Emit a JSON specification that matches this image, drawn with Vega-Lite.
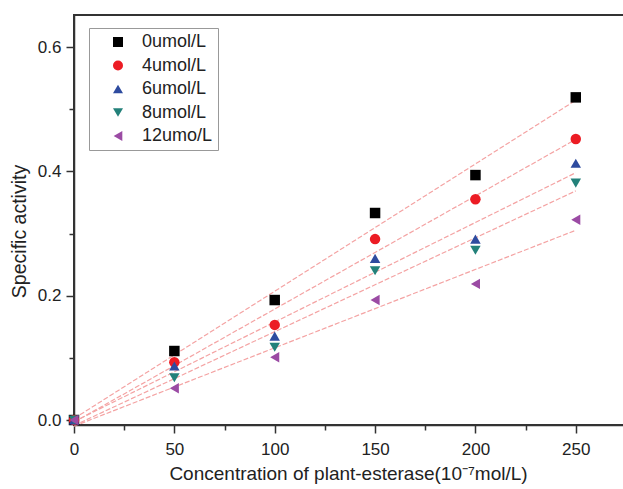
{
  "$schema": "https://vega.github.io/schema/vega-lite/v6.json",
  "autosize": "none",
  "width": 562,
  "height": 410,
  "padding": {"left": 74, "top": 15, "right": 0, "bottom": 64},
  "background": "white",
  "config": {
    "font": "Liberation Sans",
    "view": {"stroke": "#333333", "strokeWidth": 2},
    "axis": {"domainColor": "#333333", "tickColor": "#333333", "domainWidth": 1.5, "tickWidth": 1.5, "grid": false, "labelColor": "#222222", "titleColor": "#222222", "titleFontWeight": "normal", "labelFont": "Liberation Sans", "titleFont": "Liberation Sans", "labelFlush": false}
  },
  "data": {
    "values": [
      {"x": 0, "y": 0, "series": "0umol/L"},
      {"x": 50, "y": 0.111, "series": "0umol/L"},
      {"x": 100, "y": 0.193, "series": "0umol/L"},
      {"x": 150, "y": 0.333, "series": "0umol/L"},
      {"x": 200, "y": 0.394, "series": "0umol/L"},
      {"x": 250, "y": 0.519, "series": "0umol/L"},
      {"x": 0, "y": 0, "series": "4umol/L"},
      {"x": 50, "y": 0.093, "series": "4umol/L"},
      {"x": 100, "y": 0.153, "series": "4umol/L"},
      {"x": 150, "y": 0.291, "series": "4umol/L"},
      {"x": 200, "y": 0.355, "series": "4umol/L"},
      {"x": 250, "y": 0.452, "series": "4umol/L"},
      {"x": 0, "y": 0, "series": "6umol/L"},
      {"x": 50, "y": 0.087, "series": "6umol/L"},
      {"x": 100, "y": 0.135, "series": "6umol/L"},
      {"x": 150, "y": 0.26, "series": "6umol/L"},
      {"x": 200, "y": 0.291, "series": "6umol/L"},
      {"x": 250, "y": 0.413, "series": "6umol/L"},
      {"x": 0, "y": 0, "series": "8umol/L"},
      {"x": 50, "y": 0.068, "series": "8umol/L"},
      {"x": 100, "y": 0.117, "series": "8umol/L"},
      {"x": 150, "y": 0.24, "series": "8umol/L"},
      {"x": 200, "y": 0.273, "series": "8umol/L"},
      {"x": 250, "y": 0.381, "series": "8umol/L"},
      {"x": 0, "y": 0, "series": "12umo/L"},
      {"x": 50, "y": 0.051, "series": "12umo/L"},
      {"x": 100, "y": 0.101, "series": "12umo/L"},
      {"x": 150, "y": 0.193, "series": "12umo/L"},
      {"x": 200, "y": 0.219, "series": "12umo/L"},
      {"x": 250, "y": 0.322, "series": "12umo/L"}
    ]
  },
  "layer": [
    {
      "transform": [{"regression": "y", "on": "x", "groupby": ["series"], "extent": [0, 250]}],
      "mark": {"type": "line", "color": "#f4a3a3", "strokeWidth": 1.2, "strokeDash": [5, 2]},
      "encoding": {
        "x": {"field": "x", "type": "quantitative", "scale": {"domain": [0, 280], "nice": false, "zero": false},
          "axis": {"orient": "bottom", "values": [25, 75, 125, 175, 225, 275], "labels": false, "domain": false, "tickSize": 5, "title": null}},
        "y": {"field": "y", "type": "quantitative", "scale": {"domain": [-0.008, 0.6515], "nice": false, "zero": false},
          "axis": {"orient": "left", "values": [0.1, 0.3, 0.5], "labels": false, "domain": false, "tickSize": 5, "title": null}},
        "detail": {"field": "series"}
      }
    },
    {
      "mark": {"type": "point", "filled": true, "opacity": 1, "size": 110},
      "encoding": {
        "x": {"field": "x", "type": "quantitative", "scale": {"domain": [0, 280], "nice": false, "zero": false},
          "axis": {"orient": "bottom", "values": [0, 50, 100, 150, 200, 250], "tickSize": 8, "labelFontSize": 17, "labelPadding": 8, "title": "Concentration of plant-esterase(10⁻⁷mol/L)", "titleFontSize": 19, "titlePadding": 7, "titleX": 274}},
        "y": {"field": "y", "type": "quantitative", "scale": {"domain": [-0.008, 0.6515], "nice": false, "zero": false},
          "axis": {"orient": "left", "values": [0, 0.2, 0.4, 0.6], "format": ".1f", "tickSize": 8, "labelFontSize": 17, "labelPadding": 5, "title": "Specific activity", "titleFontSize": 19.5, "titlePadding": 8, "titleY": 216}},
        "color": {"field": "series", "type": "nominal",
          "scale": {"domain": ["0umol/L", "4umol/L", "6umol/L", "8umol/L", "12umo/L"], "range": ["#000000", "#ec1c24", "#2e4b9f", "#23817a", "#9b4ba4"]},
          "legend": {"orient": "none", "legendX": 15, "legendY": 13, "title": null, "strokeColor": "#999999", "padding": 5, "labelFontSize": 18, "labelFont": "Liberation Sans", "labelColor": "#222222", "symbolSize": 100, "symbolOffset": 15, "labelOffset": 15, "rowPadding": 5.5, "symbolStrokeWidth": 0}},
        "shape": {"field": "series", "type": "nominal",
          "scale": {"domain": ["0umol/L", "4umol/L", "6umol/L", "8umol/L", "12umo/L"], "range": ["square", "circle", "triangle-up", "triangle-down", "triangle-left"]},
          "legend": {"orient": "none", "legendX": 15, "legendY": 13, "title": null, "strokeColor": "#999999", "padding": 5, "labelFontSize": 18, "labelFont": "Liberation Sans", "labelColor": "#222222", "symbolSize": 100, "symbolOffset": 15, "labelOffset": 15, "rowPadding": 5.5, "symbolStrokeWidth": 0}}
      }
    }
  ],
  "resolve": {"axis": {"x": "independent", "y": "independent"}}
}
